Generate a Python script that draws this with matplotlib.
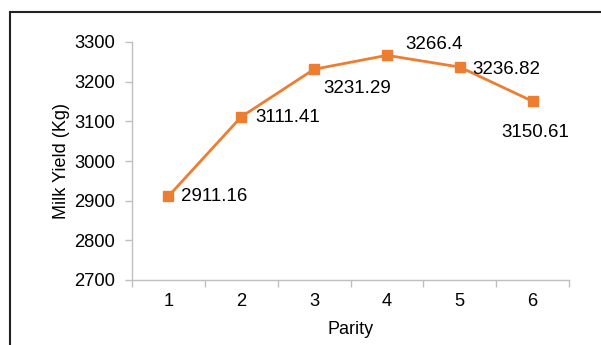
import matplotlib
matplotlib.use("Agg")
import matplotlib.pyplot as plt
from matplotlib.patches import Rectangle

parity = [1, 2, 3, 4, 5, 6]
milk_yield = [2911.16, 3111.41, 3231.29, 3266.4, 3236.82, 3150.61]
yticks = [2700, 2800, 2900, 3000, 3100, 3200, 3300]
# label offsets in pixels (dx, dy) and horizontal alignment
label_offsets = [(13, 0, "left"), (14, -1, "left"), (9, -19, "left"),
                 (18, 11, "left"), (13, -2, "left"), (3, -31, "center")]

plt.rcParams["font.family"] = ["Liberation Sans", "DejaVu Sans"]
W, H = 601, 345
fig = plt.figure(figsize=(W / 100, H / 100), dpi=100)

ax = fig.add_axes([132 / W, 1 - 280 / H, (569 - 132) / W, (280 - 42) / H])
orange = "#ED7D31"
grey = "#BFBFBF"

x = list(range(len(parity)))
ax.plot(x, milk_yield, color=orange, lw=2, marker="s", ms=6.5, mec=orange, mfc=orange)

for xi, v, (dx, dy, ha) in zip(x, milk_yield, label_offsets):
    ax.annotate(f"{v:g}", (xi, v), xytext=(dx, dy), textcoords="offset pixels",
                ha=ha, va="center", fontsize=13.5, color="black")

ax.set_xlim(-0.5, len(parity) - 0.5)
ax.set_ylim(2700, 3300)
ax.set_yticks(yticks)
ax.set_yticklabels([str(t) for t in yticks], fontsize=13.2)
ax.set_xticks([i - 0.5 for i in range(len(parity) + 1)], minor=False)
ax.set_xticklabels([])
ax.set_xticks(x, minor=True)
ax.set_xticklabels([str(p) for p in parity], minor=True, fontsize=13.2)
ax.tick_params(axis="x", which="major", length=5, color=grey, width=1, direction="out")
ax.tick_params(axis="x", which="minor", length=0, pad=9)
ax.tick_params(axis="y", length=5, color=grey, width=1, pad=7)

for s in ["top", "right"]:
    ax.spines[s].set_visible(False)
for s in ["left", "bottom"]:
    ax.spines[s].set_color(grey)
    ax.spines[s].set_linewidth(1)

ax.set_xlabel("Parity", fontsize=13, labelpad=8)
ax.set_ylabel("Milk Yield (Kg)", fontsize=13, labelpad=3)

fig.patches.append(Rectangle((10 / W, -0.2), 1.2, 1 - 12 / H + 0.2, transform=fig.transFigure,
                             fill=False, ec="#222222", lw=1.5, clip_on=False))

fig.savefig("out.png", dpi=100)
